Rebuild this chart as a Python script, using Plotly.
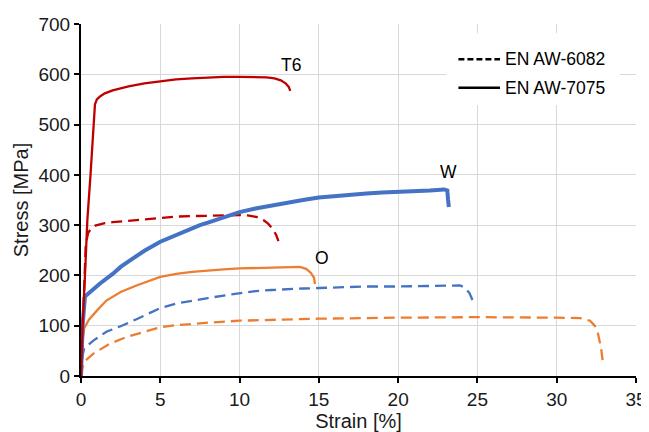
import plotly.graph_objects as go

# ---------------- data ----------------
# EN AW-7075 T6 (solid red)
t6_7075_strain = [0, 0.1, 0.25, 0.4, 0.6, 0.8, 0.88, 1.0, 1.2, 1.5, 2, 3, 4, 5, 6, 7, 8, 9, 10, 11, 11.7, 12.2, 12.6, 12.9, 13.1, 13.2]
t6_7075_stress = [0, 100, 200, 310, 400, 505, 540, 550, 556, 562, 568, 576, 582, 586, 590, 592, 594, 595, 595, 595, 594, 592, 588, 582, 575, 567]

# EN AW-6082 T6 (dashed red)
t6_6082_strain = [0, 0.15, 0.3, 0.45, 0.6, 0.9, 1.5, 2, 3, 4, 5, 6, 7, 8, 9, 10, 10.6, 11.1, 11.5, 11.8, 12.1, 12.3, 12.45]
t6_6082_stress = [0, 150, 262, 285, 291, 299, 304, 306, 309, 312, 315, 317, 318, 319, 320, 320, 319, 316, 310, 303, 292, 281, 268]

# EN AW-7075 W (solid blue)
w_7075_strain = [0, 0.1, 0.25, 0.6, 1.2, 2, 2.5, 3, 4, 5, 6, 7, 7.5, 8, 9, 10, 11, 12, 13, 14, 15, 16, 17, 18, 19, 20, 21, 22, 22.9, 23.1, 23.15, 23.2]
w_7075_stress = [0, 100, 158, 168, 184, 203, 217, 228, 249, 267, 281, 293, 300, 305, 316, 326, 333, 339, 345, 350, 355, 358, 361, 363, 365, 366, 368, 369, 371, 369, 350, 336]

# EN AW-6082 W (dashed blue)
w_6082_strain = [0, 0.1, 0.2, 0.8, 1.6, 2.5, 3.5, 5, 6, 7, 8, 9, 10, 11, 12, 13, 14, 15, 16, 17, 18, 20, 22, 23.9, 24.2, 24.5, 24.7, 24.75]
w_6082_stress = [0, 40, 55, 71, 88, 99, 113, 135, 144, 150, 155, 160, 165, 169, 171, 173, 174, 175, 176, 177, 178, 178, 179, 180, 176, 165, 150, 141]

# EN AW-7075 O (solid orange)
o_7075_strain = [0, 0.1, 0.2, 0.5, 1, 1.6, 2.5, 3.5, 5, 6, 7, 8, 9, 10, 11, 12, 13, 13.8, 14.2, 14.5, 14.7, 14.75]
o_7075_stress = [0, 70, 95, 112, 130, 150, 167, 180, 197, 203, 207, 210, 212, 214, 215, 216, 217, 217, 213, 205, 195, 183]

# EN AW-6082 O (dashed orange)
o_6082_strain = [0, 0.1, 0.25, 0.8, 1.8, 2.9, 4, 5, 6, 7, 8, 10, 12, 15, 20, 25, 30, 31.5, 32.1, 32.4, 32.6, 32.8, 32.9]
o_6082_stress = [0, 18, 30, 45, 64, 78, 88, 97, 101, 104, 106, 110, 112, 114, 116, 117, 116, 115, 110, 100, 85, 55, 30]

temper_labels = ["T6", "W", "O"]
temper_label_strain = [13.24, 23.19, 15.18]
temper_label_stress = [619, 406, 234]

legend_names = ["EN AW-6082", "EN AW-7075"]

x_ticks = [0, 5, 10, 15, 20, 25, 30, 35]
y_ticks = [0, 100, 200, 300, 400, 500, 600, 700]

# ---------------- styling ----------------
RED = "#C00000"
BLUE = "#4472C4"
ORANGE = "#ED7D31"
DASH = "11px,6px"
FONT = "Liberation Sans, Arial, sans-serif"
TXT = "#1a1a1a"

fig = go.Figure()

series = [
    (o_6082_strain, o_6082_stress, ORANGE, DASH, 2.3),
    (w_6082_strain, w_6082_stress, BLUE, DASH, 2.3),
    (t6_6082_strain, t6_6082_stress, RED, DASH, 2.3),
    (o_7075_strain, o_7075_stress, ORANGE, "solid", 2.3),
    (w_7075_strain, w_7075_stress, BLUE, "solid", 4.0),
    (t6_7075_strain, t6_7075_stress, RED, "solid", 2.3),
]
for xs, ys, col, dash, w in series:
    fig.add_trace(go.Scatter(x=xs, y=ys, mode="lines", showlegend=False,
                             line=dict(color=col, dash=dash, width=w),
                             hoverinfo="skip"))

for txt, xv, yv in zip(temper_labels, temper_label_strain, temper_label_stress):
    fig.add_annotation(x=xv, y=yv, xref="x", yref="y", text=txt, showarrow=False,
                       font=dict(family=FONT, size=17.5, color="#000000"))

# manual legend (white box covering gridlines, line samples, labels)
fig.add_shape(type="rect", xref="paper", yref="paper", x0=0.658, x1=0.971, y0=0.770, y1=0.974,
              fillcolor="white", line=dict(width=0), layer="above")
legend_rows_y = [0.900, 0.819]
legend_dash = ["6px,3px", "solid"]
for name, yy, dsh in zip(legend_names, legend_rows_y, legend_dash):
    fig.add_shape(type="line", xref="paper", yref="paper", x0=0.680, x1=0.755, y0=yy, y1=yy,
                  line=dict(color="black", width=2.6, dash=dsh), layer="above")
    fig.add_annotation(xref="paper", yref="paper", x=0.761, y=yy, text=name, showarrow=False,
                       xanchor="left", yanchor="middle",
                       font=dict(family=FONT, size=17.5, color="#000000"))

axis_common = dict(
    showgrid=True, gridcolor="#d9d9d9", gridwidth=1,
    showline=True, linecolor="black", linewidth=2,
    ticks="outside", ticklen=5, tickwidth=1.5, tickcolor="black",
    tickfont=dict(family=FONT, size=19, color=TXT),
    zeroline=False, automargin=False,
)

fig.update_xaxes(range=[0, 35], tickvals=x_ticks,
                 title=dict(text="Strain [%]", font=dict(family=FONT, size=20, color=TXT), standoff=4),
                 **axis_common)
fig.update_yaxes(range=[0, 700], tickvals=y_ticks,
                 title=dict(text="Stress [MPa]", font=dict(family=FONT, size=20, color=TXT), standoff=4),
                 **axis_common)

# the page body adds an 8px offset, so the figure is 8px smaller and margins shifted
fig.update_layout(
    width=641, height=424,
    margin=dict(l=73, r=13, t=16, b=56),
    paper_bgcolor="white", plot_bgcolor="white",
    showlegend=False,
)

fig.write_html("out.html")
